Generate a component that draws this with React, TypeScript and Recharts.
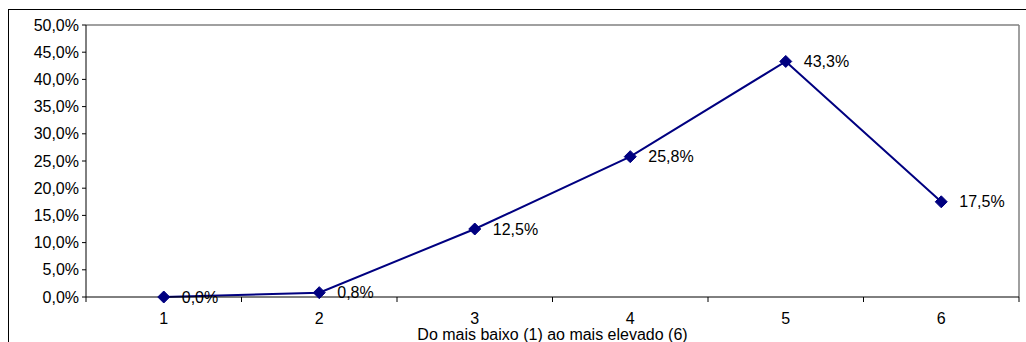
import React from 'react';
import {
  LineChart,
  Line,
  XAxis,
  YAxis,
  ReferenceLine,
  LabelList,
} from 'recharts';

const categories = [1, 2, 3, 4, 5, 6];
const percentages = [0.0, 0.8, 12.5, 25.8, 43.3, 17.5];
const yTicks = [0, 5, 10, 15, 20, 25, 30, 35, 40, 45, 50];
const xTicks = [0.5, 1, 1.5, 2, 2.5, 3, 3.5, 4, 4.5, 5, 5.5, 6, 6.5];
const xTitle = 'Do mais baixo (1) ao mais elevado (6)';

const data = categories.map((c, i) => ({ cat: c, pct: percentages[i] }));

const NAVY = '#000080';
const FONT = '"Liberation Sans", Arial, sans-serif';

const fmtPct = (v: number) => `${v.toFixed(1).replace('.', ',')}%`;

const Diamond = (props: any) => {
  const { cx, cy } = props;
  if (cx == null || cy == null) return null;
  const r = 6;
  return (
    <polygon
      points={`${cx},${cy - r} ${cx + r},${cy} ${cx},${cy + r} ${cx - r},${cy}`}
      fill={NAVY}
      stroke={NAVY}
    />
  );
};

// integer ticks get a label, half ticks get the tick mark between categories
const XTick = (props: any) => {
  const { x, y, payload } = props;
  const v = payload.value;
  const axisY = y - 8;
  if (Number.isInteger(v)) {
    return (
      <text x={x} y={axisY + 27} textAnchor="middle" fontSize={16} fontFamily={FONT} fill="#000">
        {v}
      </text>
    );
  }
  return <line x1={x} x2={x} y1={axisY} y2={axisY + 5} stroke="#000" />;
};

export default function App() {
  return (
    <div style={{ position: 'absolute', left: 0, top: 0, width: 1026, height: 342, background: '#fff' }}>
      <div
        style={{
          position: 'absolute',
          left: 8,
          top: 9,
          right: -10,
          bottom: -10,
          borderLeft: '1px solid #000',
          borderTop: '1px solid #000',
        }}
      />
      <LineChart
        width={1026}
        height={342}
        data={data}
        margin={{ top: 25, right: 7, left: 0, bottom: 0 }}
        style={{ position: 'absolute', left: 0, top: 0 }}
      >
        <XAxis
          dataKey="cat"
          type="number"
          domain={[0.5, 6.5]}
          ticks={xTicks}
          interval={0}
          tickLine={false}
          tickSize={0}
          tickMargin={8}
          tick={<XTick />}
          axisLine={{ stroke: '#000' }}
          height={45}
          label={{
            value: xTitle,
            position: 'insideBottom',
            offset: 2,
            fontSize: 16,
            fontFamily: FONT,
            fill: '#000',
          }}
        />
        <YAxis
          domain={[0, 50]}
          ticks={yTicks}
          interval={0}
          width={86}
          tickSize={4}
          tickMargin={3}
          tickFormatter={fmtPct}
          tick={{ fontSize: 16, fontFamily: FONT, fill: '#000' }}
          tickLine={{ stroke: '#000' }}
          axisLine={{ stroke: '#000' }}
        />
        <ReferenceLine y={50} stroke="#808080" strokeWidth={1.5} />
        <ReferenceLine x={6.5} stroke="#808080" strokeWidth={1.5} />
        <Line
          type="linear"
          dataKey="pct"
          stroke={NAVY}
          strokeWidth={2}
          dot={<Diamond />}
          activeDot={false}
          isAnimationActive={false}
        >
          <LabelList
            dataKey="pct"
            position="right"
            offset={18}
            formatter={(v: any) => fmtPct(Number(v))}
            style={{ fontSize: 16, fontFamily: FONT, fill: '#000' }}
          />
        </Line>
      </LineChart>
    </div>
  );
}
